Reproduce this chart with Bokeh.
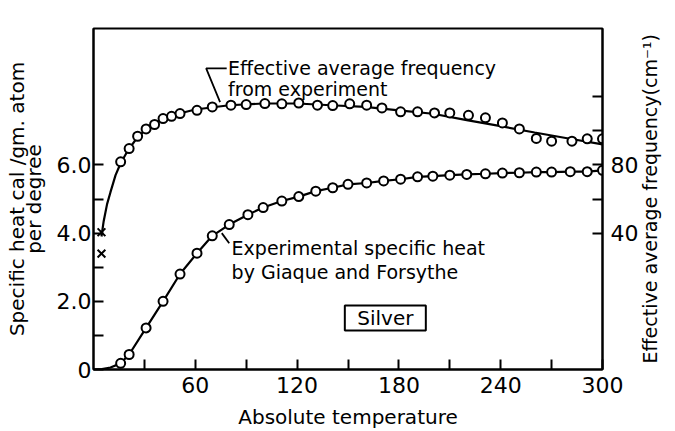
import math
from bokeh.plotting import figure
from bokeh.models import Range1d, LinearAxis, FixedTicker, Label
from bokeh.embed import file_html
from bokeh.resources import INLINE

# ---- data ----
# Experimental specific heat (cal / gm. atom / degree) vs absolute temperature
cv_T = [16, 21, 31, 41, 51, 61, 70, 80, 91, 100, 111, 121, 131, 141, 150, 161, 171,
        181, 191, 200, 210, 220, 231, 241, 251, 261, 270, 281, 291, 300]
cv = [0.18, 0.44, 1.22, 2.00, 2.80, 3.41, 3.92, 4.25, 4.54, 4.75, 4.94, 5.07, 5.23,
      5.33, 5.43, 5.47, 5.53, 5.58, 5.65, 5.67, 5.70, 5.72, 5.74, 5.76, 5.77, 5.79,
      5.79, 5.80, 5.80, 5.84]
# smooth curve start near zero temperature
cv_start_T = [0, 5, 10]
cv_start = [0.0, 0.01, 0.06]

# Effective average frequency (cm^-1) from experiment
freq_T = [16, 21, 26, 31, 36, 41, 46, 51, 61, 70, 81, 90, 101, 111, 121, 132, 141,
          151, 161, 170, 181, 191, 201, 210, 221, 231, 241, 251, 261, 270, 282, 291, 300]
freq = [81.8, 89.6, 96.8, 101.1, 103.7, 107.2, 108.5, 110.1, 112.0, 114.0, 115.0,
        115.4, 116.0, 115.8, 116.3, 115.0, 114.8, 115.8, 115.0, 113.4, 111.1, 111.1,
        110.5, 110.5, 109.1, 107.6, 104.6, 101.1, 95.5, 93.9, 93.9, 95.3, 95.3]
# smooth fitted curve for the frequency
freq_fit_T = [4.7, 6, 8, 10, 13, 16, 20, 25, 30, 40, 50, 60, 80, 100, 120, 140, 160,
              180, 200, 220, 240, 260, 280, 300]
freq_fit = [38, 47, 57, 64, 74, 81, 88, 95, 100, 106.5, 110, 112.5, 115, 116, 116,
            115, 114, 112, 110, 106.3, 102.7, 99, 95.5, 92]
# low-temperature crosses
cross_T = [4.7, 4.7]
cross_f = [40.5, 28.0]

x_ticks = [60, 120, 180, 240, 300]
x_minor = [30, 90, 150, 210, 270]
y_ticks = [0, 2, 4, 6]
y_minor = [1, 3, 5]
y_labels = {0: "0", 2: "2.0", 4: "4.0", 6: "6.0"}
r_ticks = [40, 80]
r_minor = [60, 100, 120]

x_title = "Absolute temperature"
y_title = "Specific heat cal /gm. atom\nper degree"
r_title = "Effective average frequency(cm\u207b\u00b9)"
r_title_start = -36.5   # right-axis value where the rotated title begins

FONT = "DejaVu Sans"

p = figure(width=675, height=431, output_backend="svg", toolbar_location=None,
           x_range=Range1d(0, 300), y_range=Range1d(0, 10),
           min_border_left=93, min_border_right=71, min_border_top=28,
           min_border_bottom=62, x_axis_location=None, y_axis_location=None)
p.extra_y_ranges = {"freq": Range1d(-40, 160)}
p.grid.visible = False
p.outline_line_color = "black"
p.outline_line_width = 2
p.background_fill_color = "white"
p.border_fill_color = "white"


def style_axis(ax, standoff):
    ax.axis_line_width = 2
    ax.axis_line_color = "black"
    ax.major_tick_in = 10
    ax.major_tick_out = 0
    ax.minor_tick_in = 10
    ax.minor_tick_out = 0
    ax.major_tick_line_width = 2
    ax.minor_tick_line_width = 2
    ax.major_label_text_font = FONT
    ax.major_label_text_font_size = "22px"
    ax.major_label_text_color = "black"
    ax.major_label_standoff = standoff
    ax.axis_label_text_font = FONT
    ax.axis_label_text_font_size = "20px"
    ax.axis_label_text_font_style = "normal"
    ax.axis_label_text_color = "black"


xb = LinearAxis(ticker=FixedTicker(ticks=x_ticks, minor_ticks=x_minor),
                axis_label=x_title)
style_axis(xb, 7)
xb.axis_label_standoff = 9
xb.axis_label_text_line_height = 0.8
p.add_layout(xb, "below")

yl = LinearAxis(ticker=FixedTicker(ticks=y_ticks, minor_ticks=y_minor),
                major_label_overrides=y_labels, axis_label=y_title)
style_axis(yl, 2)
yl.axis_label_standoff = 8
yl.axis_label_text_line_height = 0.7
p.add_layout(yl, "left")

yr = LinearAxis(y_range_name="freq", ticker=FixedTicker(ticks=r_ticks, minor_ticks=r_minor))
style_axis(yr, 8)
p.add_layout(yr, "right")

# outer right axis that only carries the rotated title (reads bottom to top)
yr2 = LinearAxis(y_range_name="freq",
                 ticker=FixedTicker(ticks=[r_title_start], minor_ticks=[]),
                 major_label_overrides={r_title_start: r_title})
yr2.axis_line_color = None
yr2.major_tick_line_color = None
yr2.minor_tick_line_color = None
yr2.major_tick_in = 0
yr2.major_tick_out = 0
yr2.major_label_text_font = FONT
yr2.major_label_text_font_size = "19px"
yr2.major_label_text_color = "black"
yr2.major_label_standoff = 9
yr2.major_label_orientation = math.pi / 2
p.add_layout(yr2, "right")

# curves
p.line(cv_start_T + cv_T, cv_start + cv, line_color="black", line_width=2.2)
p.scatter(cv_T, cv, marker="circle", size=9, fill_color="white",
          line_color="black", line_width=2)

p.line(freq_fit_T, freq_fit, y_range_name="freq", line_color="black", line_width=2.2)
p.scatter(freq_T, freq, y_range_name="freq", marker="circle", size=9,
          fill_color="white", line_color="black", line_width=2)
p.scatter(cross_T, cross_f, y_range_name="freq", marker="x", size=11,
          line_color="black", line_width=2)

# annotation leaders
p.line([78.5, 66.4, 74.6], [8.83, 8.83, 7.84], line_color="black", line_width=1.8)
p.line([75.6, 80.0], [4.0, 3.70], line_color="black", line_width=1.8)

# "Silver" box
p.rect(x=[172], y=[1.51], width=81, height=25, width_units="screen",
       height_units="screen", fill_color="white", line_color="black", line_width=2)


def txt(x, y, s, size="19px", align="left"):
    lab = Label(x=x, y=y, text=s, text_font=FONT, text_font_size=size,
                text_align=align, text_baseline="middle", text_color="black")
    p.add_layout(lab)
    return lab


txt(79.3, 8.83, "Effective average frequency")
txt(79.3, 8.24, "from experiment")
txt(81.4, 3.55, "Experimental specific heat")
txt(81.4, 2.87, "by Giaque and Forsythe")
txt(172, 1.51, "Silver", size="20px", align="center")

open("out.html", "w").write(file_html(p, INLINE))
